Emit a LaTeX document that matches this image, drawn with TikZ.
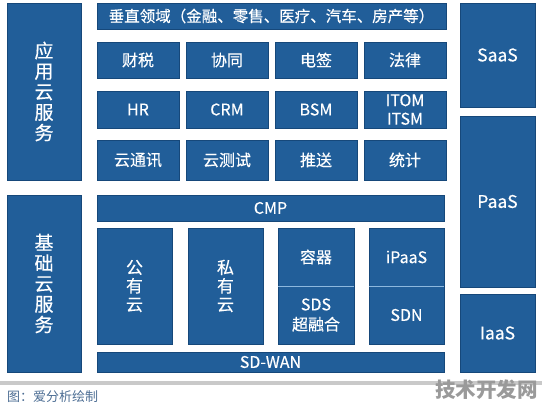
\documentclass[tikz,border=0pt]{standalone}
\usepackage{fontspec}
\setmainfont{Noto Sans CJK SC}
\newfontfamily\boxfont{Noto Sans CJK SC}[FakeBold=0.35]
\usetikzlibrary{positioning}
\definecolor{boxblue}{HTML}{215E99}
\definecolor{boxedge}{HTML}{16487A}
\definecolor{splitblue}{HTML}{8DB8DE}
\definecolor{rulegray}{HTML}{C9C9C9}
\definecolor{notegray}{HTML}{4D6E94}
\definecolor{markgray}{HTML}{9A9A9A}

\begin{document}
\begin{tikzpicture}[x=1pt, y=-1pt,
    blk/.style={draw=boxedge, fill=boxblue, line width=0.8pt, text=white,
      inner sep=0pt, align=center, font=\boxfont\fontsize{16}{19}\selectfont},
    side/.style={blk, font=\boxfont\fontsize{19}{20.5}\selectfont},
    sz/.style 2 args={minimum width=#1, minimum height=#2},
  ]
    \useasboundingbox (0,0) rectangle (542,411);

    % left column
    \node[side, sz={74}{177}] (app) at (44,91.5) {应\\用\\云\\服\\务};
    \node[side, sz={74}{177}] (base) at (44,283.5) {基\\础\\云\\服\\务};

    % application cloud services
    \node[blk, sz={349}{26}, font=\boxfont\fontsize{15.5}{18}\selectfont] (vert) at (271.5,16)
      {垂直领域（金融、零售、医疗、汽车、房产等）};
    \node[blk, sz={82}{36}] (tax) at (138,60) {财税};
    \node[blk, sz={82}{36}] (collab) at (227,60) {协同};
    \node[blk, sz={82}{36}] (esign) at (316,60) {电签};
    \node[blk, sz={82}{36}] (law) at (405,60) {法律};
    \node[blk, sz={82}{37}] (hr) at (138,109.5) {HR};
    \node[blk, sz={82}{37}] (crm) at (227,109.5) {CRM};
    \node[blk, sz={82}{37}] (bsm) at (316,109.5) {BSM};
    \node[blk, sz={82}{37}, font=\boxfont\fontsize{16}{18.5}\selectfont] (itom) at (405,109.5) {ITOM\\ITSM};
    \node[blk, sz={82}{40}] (comm) at (138,160) {云通讯};
    \node[blk, sz={82}{40}] (test) at (227,160) {云测试};
    \node[blk, sz={82}{40}] (push) at (316,160) {推送};
    \node[blk, sz={82}{40}] (stat) at (405,160) {统计};

    % infrastructure cloud services
    \node[blk, sz={347}{26}] (cmp) at (270.5,208) {CMP};
    \node[blk, sz={75}{116}, font=\boxfont\fontsize{17}{18.5}\selectfont] (pub) at (134.5,286) {公\\有\\云};
    \node[blk, sz={75}{116}, font=\boxfont\fontsize{17}{18.5}\selectfont] (priv) at (225.5,286) {私\\有\\云};
    \node[blk, sz={76}{58}] (cont) at (316,257) {容器};
    \node[blk, sz={76}{58}, font=\boxfont\fontsize{16}{20}\selectfont] (sds) at (316,315) {SDS\\超融合};
    \node[blk, sz={75}{58}] (ipaas) at (406.5,257) {iPaaS};
    \node[blk, sz={75}{58}] (sdn) at (406.5,315) {SDN};
    \draw[splitblue, line width=1pt] (cont.south west) -- (cont.south east);
    \draw[splitblue, line width=1pt] (ipaas.south west) -- (ipaas.south east);
    \node[blk, sz={347}{20}] (wan) at (270.5,362) {SD-WAN};

    % right column
    \node[blk, sz={75}{104}, font=\boxfont\fontsize{17.5}{20}\selectfont] (saas) at (497.5,55) {SaaS};
    \node[blk, sz={75}{171}, font=\boxfont\fontsize{17.5}{20}\selectfont] (paas) at (497.5,201.5) {PaaS};
    \node[blk, sz={75}{78}, font=\boxfont\fontsize{17.5}{20}\selectfont] (iaas) at (497.5,333) {IaaS};

    % footer
    \fill[rulegray] (0,381) rectangle (542,385);
    \node[anchor=west, inner sep=0pt, text=notegray, font=\fontsize{13}{14}\selectfont] (note) at (7,397) {图：爱分析绘制};
    \node[anchor=east, inner sep=0pt, text=markgray, font=\fontsize{20.5}{22}\bfseries] (mark) at (538,390) {技术开发网};
\end{tikzpicture}
\end{document}
